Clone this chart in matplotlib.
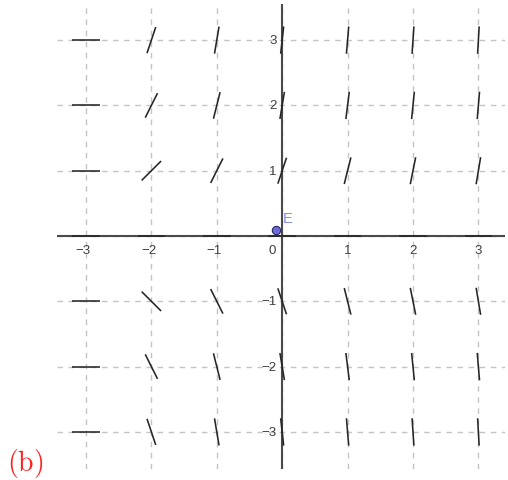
import numpy as np
import matplotlib
matplotlib.use("Agg")
from matplotlib import pyplot as plt
import matplotlib.transforms as mtransforms

# slope field grid and slope values dy/dx = y*(x+3)
xs = [-3, -2, -1, 0, 1, 2, 3]
ys = [-3, -2, -1, 0, 1, 2, 3]
tick_vals = [-3, -2, -1, 1, 2, 3]
punto_E = (-0.1, 0.09)
seg_len = 0.42

plt.rcParams['mathtext.fontset'] = 'cm'

fig = plt.figure(figsize=(5.08, 4.81), dpi=100)
ax = fig.add_axes([57/508, 1-470/481, 448/508, 465/481])
ax.set_xlim(-3.443, 3.407)
ax.set_ylim(-3.568, 3.553)
for s in ax.spines.values():
    s.set_visible(False)
ax.set_xticks([])
ax.set_yticks([])

# rejilla
for v in xs:
    ax.axvline(v, color='#c4c4c4', lw=1, ls=(0, (4, 4)), zorder=1)
for v in ys:
    ax.axhline(v, color='#c4c4c4', lw=1, ls=(0, (4, 4)), zorder=1)

# ejes
ax.axhline(0, color='#4a4a4a', lw=1.5, zorder=2)
ax.axvline(0, color='#4a4a4a', lw=1.5, zorder=2)

# segmentos del campo de pendientes
for x in xs:
    for y in ys:
        m = y * (x + 3)
        ang = np.arctan(m)
        dx = 0.5 * seg_len * np.cos(ang)
        dy = 0.5 * seg_len * np.sin(ang)
        ax.plot([x - dx, x + dx], [y - dy, y + dy], color='#262626', lw=1.15,
                solid_capstyle='butt', zorder=3)

# etiquetas de los ejes
fuente = dict(family='Liberation Sans', fontsize=9.5, color='#404040')
for v in tick_vals:
    off = mtransforms.offset_copy(ax.transData, fig=fig, x=3.6 if v < 0 else 0, y=-6, units='points')
    ax.text(v, 0, str(v).replace('-', '\u2212'), transform=off,
            ha='right' if v < 0 else 'center', va='top', **fuente)
    offy = mtransforms.offset_copy(ax.transData, fig=fig, x=-4, y=0, units='points')
    ax.text(0, v, str(v).replace('-', '\u2212'), transform=offy,
            ha='right', va='center', **fuente)
off0 = mtransforms.offset_copy(ax.transData, fig=fig, x=-4.5, y=-6, units='points')
ax.text(0, 0, '0', transform=off0, ha='right', va='top', **fuente)

# punto E
ax.plot(punto_E[0], punto_E[1], 'o', ms=6, mfc='#6b6bdc', mec='#2a2a60', mew=0.8, zorder=5)
ax.text(0.01, 0.17, 'E', color='#8a8ae6', fontsize=10.5,
        family='Liberation Sans', ha='left', va='bottom', zorder=5)

fig.text(7/508, 1-464/481, r'$\mathrm{(b)}$', color='#ff2020', fontsize=20,
         ha='left', va='center')

fig.savefig('out.png', dpi=100)
